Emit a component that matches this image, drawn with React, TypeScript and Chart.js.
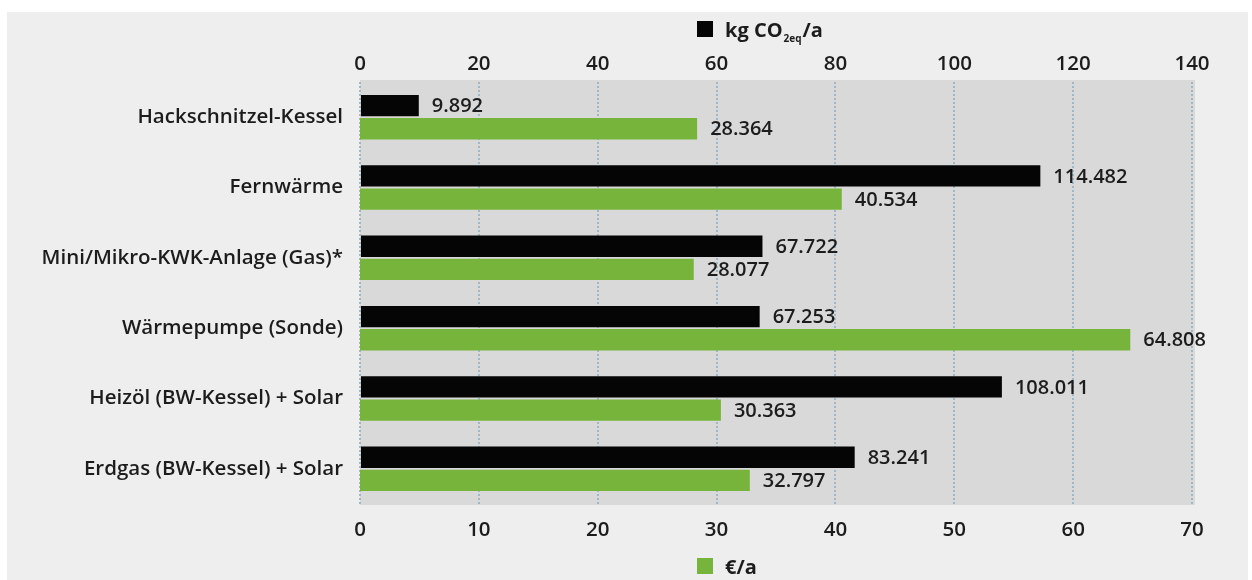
import React, { useEffect, useRef } from "react";
import { Chart, registerables } from "chart.js";

Chart.register(...registerables);

const categories = [
  "Hackschnitzel-Kessel",
  "Fernwärme",
  "Mini/Mikro-KWK-Anlage (Gas)*",
  "Wärmepumpe (Sonde)",
  "Heizöl (BW-Kessel) + Solar",
  "Erdgas (BW-Kessel) + Solar",
];
const co2Values = [9.892, 114.482, 67.722, 67.253, 108.011, 83.241];
const euroValues = [28.364, 40.534, 28.077, 64.808, 30.363, 32.797];
const topTicksMax = 140;
const topTickStep = 20;
const bottomTicksMax = 70;
const bottomTickStep = 10;

const FONT = "'Open Sans', Roboto, 'DejaVu Sans', sans-serif";
const BLACK = "#050505";
const GREEN = "#77b43c";
const TEXT = "#1c1c1c";

const plotBg = {
  id: "plotBg",
  beforeDraw(chart: any) {
    const { ctx, chartArea } = chart;
    ctx.save();
    ctx.fillStyle = "#d9d9d9";
    ctx.fillRect(chartArea.left, chartArea.top - 2, chartArea.right - chartArea.left + 3, chartArea.bottom - chartArea.top + 3);
    ctx.restore();
  },
};

const valueLabels = {
  id: "valueLabels",
  afterDatasetsDraw(chart: any) {
    const { ctx } = chart;
    ctx.save();
    ctx.font = `600 20px ${FONT}`;
    ctx.fillStyle = TEXT;
    ctx.textBaseline = "middle";
    ctx.textAlign = "left";
    chart.data.datasets.forEach((ds: any, i: number) => {
      const meta = chart.getDatasetMeta(i);
      meta.data.forEach((bar: any, j: number) => {
        const v = ds.data[j] as number;
        ctx.fillText(v.toFixed(3), bar.x + 13, bar.y + 1);
      });
    });
    ctx.restore();
  },
};

const customLegend = {
  id: "customLegend",
  afterDraw(chart: any) {
    const { ctx, chartArea } = chart;
    const x0 = chartArea.left + 337;
    ctx.save();
    ctx.fillStyle = BLACK;
    ctx.fillRect(x0, 21, 16, 16);
    ctx.fillStyle = TEXT;
    ctx.textBaseline = "alphabetic";
    ctx.textAlign = "left";
    ctx.font = `700 20px ${FONT}`;
    let x = x0 + 28;
    ctx.fillText("kg CO", x, 37);
    x += ctx.measureText("kg CO").width + 1;
    ctx.font = `700 10px ${FONT}`;
    ctx.fillText("2eq", x, 42);
    x += ctx.measureText("2eq").width + 1;
    ctx.font = `700 20px ${FONT}`;
    ctx.fillText("/a", x, 37);
    ctx.fillStyle = GREEN;
    ctx.fillRect(x0, 558, 16, 16);
    ctx.fillStyle = TEXT;
    ctx.font = `700 20px ${FONT}`;
    ctx.fillText("€/a", x0 + 28, 574);
    ctx.restore();
  },
};

export default function App() {
  const ref = useRef<HTMLCanvasElement | null>(null);
  useEffect(() => {
    if (!ref.current) return;
    const chart = new Chart(ref.current, {
      type: "bar",
      data: {
        labels: categories,
        datasets: [
          {
            label: "kg CO2eq/a",
            data: co2Values,
            backgroundColor: BLACK,
            xAxisID: "x",
            categoryPercentage: 0.66,
            barPercentage: 0.92,
          },
          {
            label: "€/a",
            data: euroValues,
            backgroundColor: GREEN,
            xAxisID: "x2",
            categoryPercentage: 0.66,
            barPercentage: 0.92,
          },
        ],
      },
      options: {
        indexAxis: "y",
        responsive: false,
        animation: false,
        layout: { padding: { left: 0, right: 60, top: 0, bottom: 0 } },
        plugins: { legend: { display: false }, tooltip: { enabled: false } },
        scales: {
          x: {
            position: "top",
            min: 0,
            max: topTicksMax,
            ticks: { stepSize: topTickStep, color: TEXT, font: { family: FONT, size: 20.5, weight: "600" }, padding: 6, maxRotation: 0 },
            grid: { drawTicks: false, color: "#a0b7c6", lineWidth: 2 },
            border: { display: false, dash: [2, 2] },
            afterFit: (s: any) => { s.height = 82; },
          },
          x2: {
            position: "bottom",
            min: 0,
            max: bottomTicksMax,
            ticks: { stepSize: bottomTickStep, color: TEXT, font: { family: FONT, size: 20.5, weight: "600" }, padding: 14, maxRotation: 0 },
            grid: { display: false, drawTicks: false },
            border: { display: false },
            afterFit: (s: any) => { s.height = 76; },
          },
          y: {
            ticks: { color: TEXT, font: { family: FONT, size: 20.5, weight: "600" }, padding: 17 },
            grid: { display: false, drawTicks: false },
            border: { display: false },
            afterFit: (s: any) => { s.width = 360; },
          },
        },
      },
      plugins: [plotBg, valueLabels, customLegend],
    } as any);
    return () => chart.destroy();
  }, []);
  return (
    <div style={{ position: "absolute", left: 0, top: 0, width: 1252, height: 580, background: "#ffffff", overflow: "hidden" }}>
      <div style={{ position: "absolute", left: 7, top: 12, width: 1241, height: 568, background: "#eeeeee" }} />
      <canvas ref={ref} width={1252} height={580} style={{ position: "absolute", left: 0, top: 0, width: 1252, height: 580 }} />
    </div>
  );
}
